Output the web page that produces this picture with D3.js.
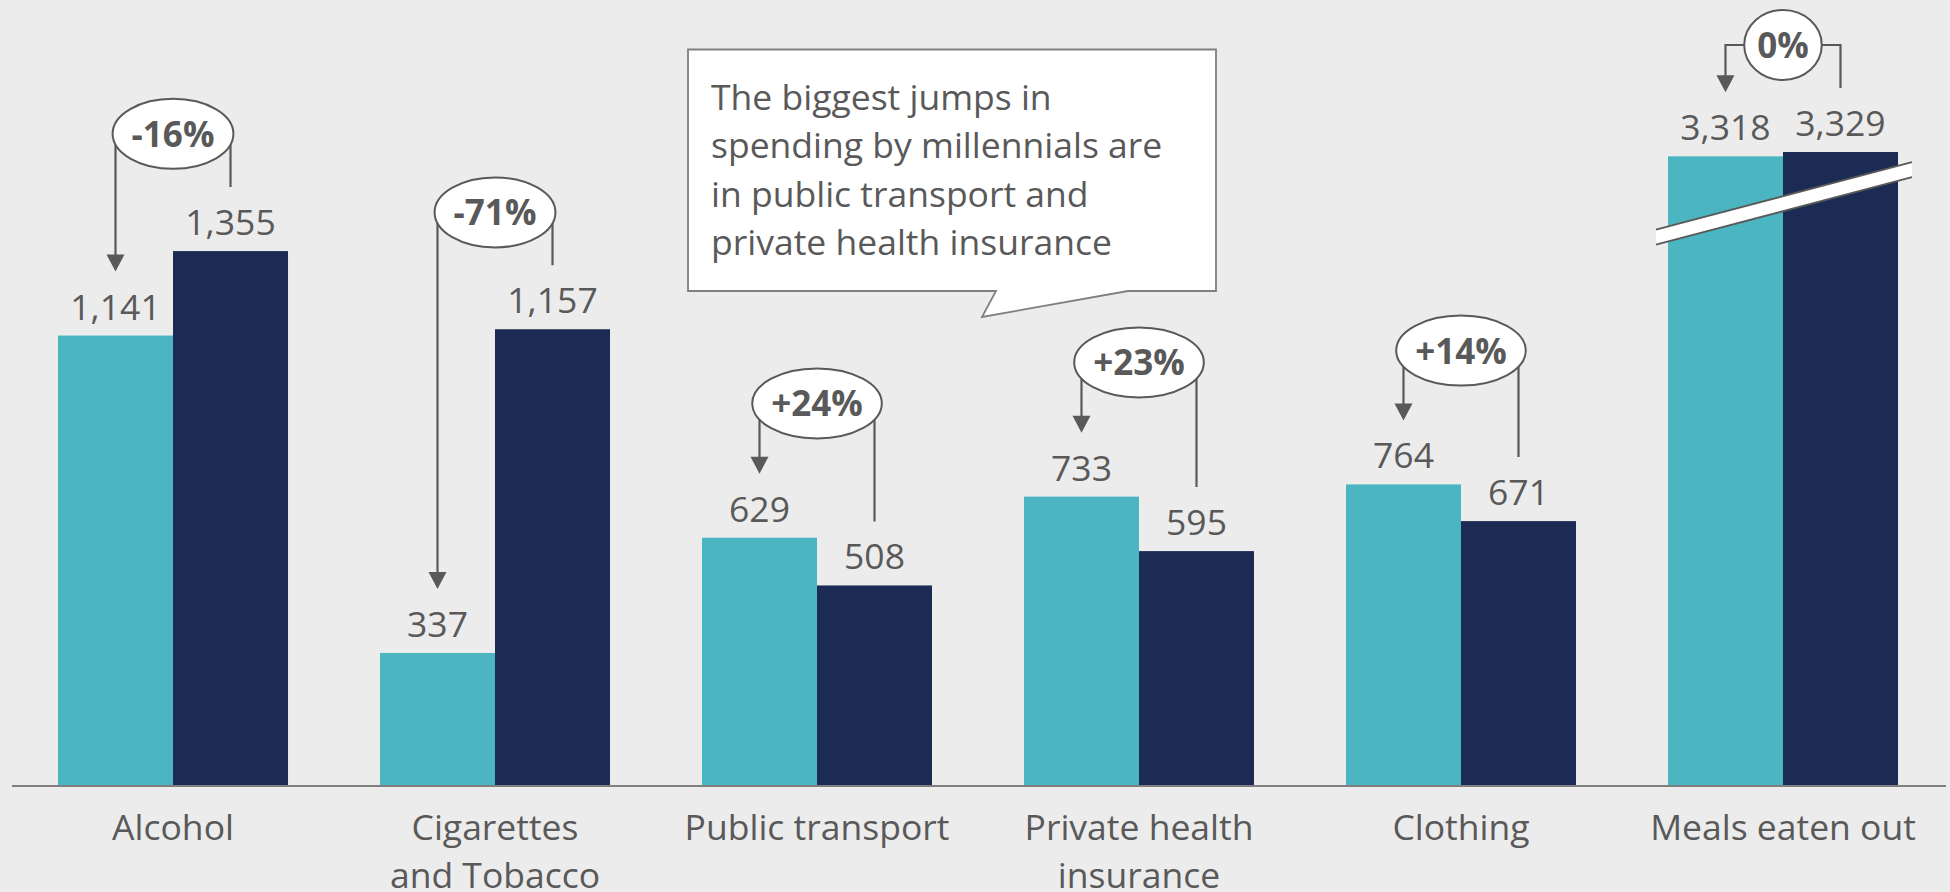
<!DOCTYPE html>
<html>
<head>
<meta charset="utf-8">
<script src="https://cdn.jsdelivr.net/npm/d3@7"></script>
<style>
  html, body { margin: 0; padding: 0; background: #ECECEC; }
  svg { display: block; }
  text { font-family: "Open Sans", "Noto Sans", sans-serif; fill: #595959; }
</style>
</head>
<body>
<svg id="chart" width="1950" height="892"></svg>
<script>
// Annual spending per category, millennials vs the previous generation
const categories = ["Alcohol", "Cigarettes and Tobacco", "Public transport",
                    "Private health insurance", "Clothing", "Meals eaten out"];
const categoryLines = [["Alcohol"], ["Cigarettes", "and Tobacco"], ["Public transport"],
                       ["Private health", "insurance"], ["Clothing"], ["Meals eaten out"]];
const seriesKeys = ["millennials", "previous"];
const millennials = [1141, 337, 629, 733, 764, 3318];
const previous = [1355, 1157, 508, 595, 671, 3329];
const changeLabels = ["-16%", "-71%", "+24%", "+23%", "+14%", "0%"];
// height (in spending units) at which each comparison bracket sits
const bracketLevels = [1652, 1453, 969, 1073, 1103, 3600];
const calloutLines = ["The biggest jumps in", "spending by millennials are",
                      "in public transport and", "private health insurance"];

// The "Meals eaten out" bars are drawn on a broken axis
const breakCategory = "Meals eaten out";
const breakGap = 1723;
const breakMarkLevel = 3198;

const colors = { millennials: "#4BB6C1", previous: "#1C2B54" };
const ink = "#595959";

const W = 1950, H = 892, baseY = 786;
const svg = d3.select("#chart");
svg.append("rect").attr("width", W).attr("height", H).attr("fill", "#ECECEC");

const x0 = d3.scaleBand().domain(categories).range([12, 1944])
  .paddingInner(0.2857).paddingOuter(0.1429);
const x1 = d3.scaleBand().domain(seriesKeys).range([0, x0.bandwidth()]);
const y = d3.scaleLinear().domain([0, 1991]).range([baseY, 0]);

const shown = (cat, v) => cat === breakCategory ? v - breakGap : v;

const rows = categories.map((c, i) => ({
  cat: c, i,
  values: { millennials: millennials[i], previous: previous[i] }
}));

// bars
const groups = svg.append("g").selectAll("g").data(rows).join("g")
  .attr("transform", d => `translate(${x0(d.cat)},0)`);

groups.selectAll("rect").data(d => seriesKeys.map(k => ({ k, v: d.values[k], cat: d.cat })))
  .join("rect")
  .attr("x", d => x1(d.k))
  .attr("width", x1.bandwidth())
  .attr("y", d => y(shown(d.cat, d.v)))
  .attr("height", d => baseY - y(shown(d.cat, d.v)))
  .attr("fill", d => colors[d.k]);

// axis-break mark across the broken bars
{
  const bx = x0(breakCategory), bw = x0.bandwidth();
  const cx = bx + bw / 2, cy = y(shown(breakCategory, breakMarkLevel));
  const slope = -0.2637, half = 7.5;
  const xa = bx - 12, xb = bx + bw + 14;
  const yAt = xx => cy + (xx - cx) * slope;
  const g = svg.append("g");
  g.append("path")
    .attr("d", `M${xa},${yAt(xa) - half}L${xb},${yAt(xb) - half}L${xb},${yAt(xb) + half}L${xa},${yAt(xa) + half}Z`)
    .attr("fill", "#FFFFFF");
  [-half, half].forEach(o => {
    g.append("line")
      .attr("x1", xa).attr("y1", yAt(xa) + o)
      .attr("x2", xb).attr("y2", yAt(xb) + o)
      .attr("stroke", ink).attr("stroke-width", 1.8);
  });
}

// value labels
groups.selectAll("text.val").data(d => seriesKeys.map(k => ({ k, v: d.values[k], cat: d.cat })))
  .join("text")
  .attr("class", "val")
  .attr("x", d => x1(d.k) + x1.bandwidth() / 2)
  .attr("y", d => y(shown(d.cat, d.v)) - 16)
  .attr("text-anchor", "middle")
  .style("font-size", "35.5px")
  .text(d => d3.format(",")(d.v));

// x axis
const axis = svg.append("g").attr("transform", `translate(0,${baseY})`)
  .call(d3.axisBottom(x0).tickSize(0).tickFormat(""));
axis.select(".domain").attr("d", `M12,0H1946`).attr("stroke", "#7F7F7F").attr("stroke-width", 2);
axis.selectAll(".tick").each(function (c, i) {
  const t = d3.select(this).append("text")
    .attr("text-anchor", "middle")
    .style("font-size", "35.5px")
    .attr("fill", ink);
  categoryLines[i].forEach((line, j) => {
    t.append("tspan").attr("x", 0).attr("y", 54 + j * 47.5).text(line);
  });
});

// comparison brackets with change badges
const brackets = svg.append("g");
rows.forEach(d => {
  const bx = x0(d.cat);
  const lx = bx + x1("millennials") + x1.bandwidth() / 2;
  const rx = bx + x1("previous") + x1.bandwidth() / 2;
  const top = y(shown(d.cat, bracketLevels[d.i]));
  const lEnd = y(shown(d.cat, d.values.millennials)) - 64;
  const rEnd = y(shown(d.cat, d.values.previous)) - 64;
  const head = 17;
  const g = brackets.append("g");
  g.append("path")
    .attr("d", `M${lx},${lEnd - head + 1}V${top}H${rx}V${rEnd}`)
    .attr("fill", "none").attr("stroke", ink).attr("stroke-width", 2.2);
  g.append("path")
    .attr("d", `M${lx - 9},${lEnd - head}L${lx + 9},${lEnd - head}L${lx},${lEnd}Z`)
    .attr("fill", ink);
  const cx = bx + x0.bandwidth() / 2;
  const ell = g.append("ellipse").attr("cx", cx).attr("cy", top)
    .attr("fill", "#FFFFFF").attr("stroke", ink).attr("stroke-width", 2);
  const txt = g.append("text").attr("x", cx).attr("y", top + 13)
    .attr("text-anchor", "middle")
    .style("font-size", "35px").style("font-weight", 700)
    .text(changeLabels[d.i]);
  const w = txt.node().getComputedTextLength();
  ell.attr("rx", w / 2 + (w < 60 ? 13 : 19)).attr("ry", 35);
});

// callout
const callout = svg.append("g");
callout.append("path")
  .attr("d", "M688,49.5H1216V291H1128L982,317L996,291H688Z")
  .attr("fill", "#FFFFFF").attr("stroke", "#7F7F7F").attr("stroke-width", 1.8);
const ct = callout.append("text").style("font-size", "35.5px");
calloutLines.forEach((line, j) => {
  ct.append("tspan").attr("x", 711).attr("y", 110 + j * 48.3).text(line);
});
</script>
</body>
</html>
